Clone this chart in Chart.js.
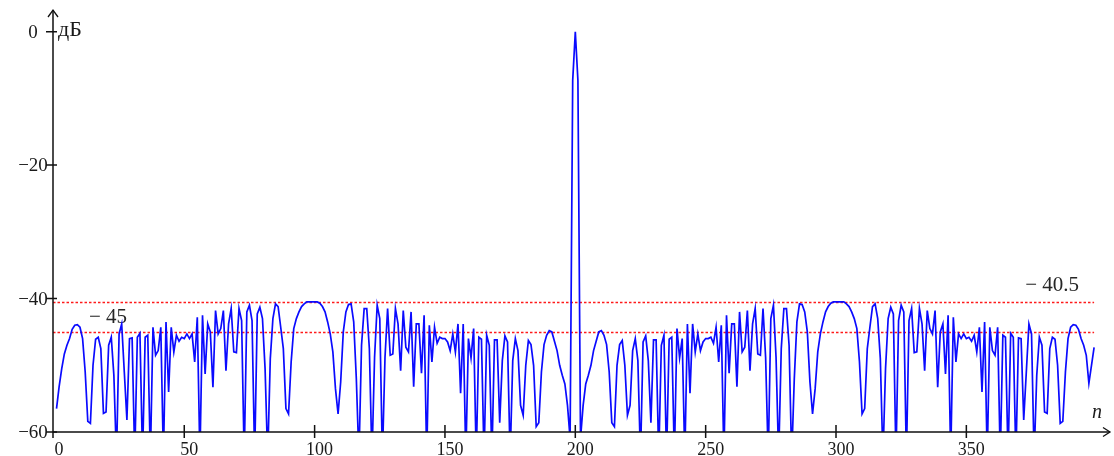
<!DOCTYPE html>
<html>
<head>
<meta charset="utf-8">
<script src="https://cdn.jsdelivr.net/npm/chart.js@4"></script>
<style>
  html, body { margin: 0; padding: 0; background: #ffffff; }
  #wrap { width: 1114px; height: 456px; }
</style>
</head>
<body>
<div id="wrap"><canvas id="chart" width="1114" height="456"></canvas></div>
<script>
// Normalised correlation response, dB, lag n = 1 ... 399
const firstLag = 1;

// n = 1 ... 198
const leftSidelobesDb = [
  -56.5, -53.2, -50.5, -48.3, -47.0, -46.0, -44.6, -44.0, -43.9, -44.3,
  -46.0, -51.0, -58.4, -58.7, -50.0, -46.1, -45.8, -47.5, -57.2, -57.0,
  -47.0, -45.8, -51.5, -64.0, -45.3, -43.8, -51.0, -58.2, -46.0, -45.9,
  -64.0, -45.8, -45.2, -64.0, -45.8, -45.5, -64.0, -44.3, -48.5, -47.8,
  -44.3, -64.0, -43.5, -54.0, -44.3, -48.0, -45.5, -46.4, -45.8, -46.0,
  -45.3, -46.0, -45.3, -49.5, -42.8, -64.0, -42.5, -51.3, -43.8, -45.0,
  -53.3, -41.8, -45.3, -44.5, -41.8, -50.8, -43.8, -41.5, -48.0, -48.1,
  -41.5, -43.3, -64.0, -42.0, -41.0, -43.3, -64.0, -42.3, -41.3, -43.0,
  -50.5, -64.0, -49.0, -43.0, -40.8, -41.2, -44.3, -47.5, -56.5, -57.3,
  -49.5, -44.5, -43.0, -42.0, -41.2, -40.8, -40.5, -40.5, -40.5, -40.5,
  -40.5, -40.7, -41.2, -42.0, -43.5, -45.3, -48.0, -53.5, -57.3, -52.5,
  -45.0, -42.0, -40.9, -40.8, -43.5, -52.0, -64.0, -47.0, -41.5, -41.5,
  -47.5, -64.0, -48.8, -41.0, -43.0, -64.0, -48.8, -41.5, -48.5, -48.3,
  -41.5, -43.8, -50.8, -41.8, -47.3, -48.0, -42.0, -53.2, -43.8, -43.8,
  -51.2, -42.5, -64.0, -44.0, -49.5, -44.3, -46.7, -45.8, -46.0, -46.0,
  -46.5, -47.8, -45.3, -48.0, -43.8, -54.2, -43.8, -64.0, -46.0, -48.9,
  -44.5, -64.0, -45.8, -46.1, -64.0, -45.5, -47.0, -64.0, -46.2, -46.2,
  -58.6, -49.3, -45.6, -46.5, -64.0, -49.3, -46.0, -47.8, -56.0, -57.5,
  -50.0, -46.3, -46.9, -50.0, -59.2, -58.6, -51.0, -46.9, -45.5, -44.8,
  -45.0, -46.4, -47.8, -50.0, -51.5, -52.8, -56.0, -61.0
];

// n = 199, 200, 201
const mainLobeDb = [-7.3, 0, -7.3];

// n = 202 ... 399
const rightSidelobesDb = [
  -61.0, -56.0, -52.8, -51.5, -50.0, -47.8, -46.4, -45.0, -44.8, -45.5,
  -46.9, -51.0, -58.6, -59.2, -50.0, -46.9, -46.3, -50.0, -57.5, -56.0,
  -47.8, -46.0, -49.3, -64.0, -46.5, -45.6, -49.3, -58.6, -46.2, -46.2,
  -64.0, -47.0, -45.5, -64.0, -46.1, -45.8, -64.0, -44.5, -48.9, -46.0,
  -64.0, -43.8, -54.2, -43.8, -48.0, -45.3, -47.8, -46.5, -46.0, -46.0,
  -45.8, -46.7, -44.3, -49.5, -44.0, -64.0, -42.5, -51.2, -43.8, -43.8,
  -53.2, -42.0, -48.0, -47.3, -41.8, -50.8, -43.8, -41.5, -48.3, -48.5,
  -41.5, -48.8, -64.0, -43.0, -41.0, -48.8, -64.0, -47.5, -41.5, -41.5,
  -47.0, -64.0, -52.0, -43.5, -40.8, -40.9, -42.0, -45.0, -52.5, -57.3,
  -53.5, -48.0, -45.3, -43.5, -42.0, -41.2, -40.7, -40.5, -40.5, -40.5,
  -40.5, -40.5, -40.8, -41.2, -42.0, -43.0, -44.5, -49.5, -57.3, -56.5,
  -47.5, -44.3, -41.2, -40.8, -43.0, -49.0, -64.0, -50.5, -43.0, -41.3,
  -42.3, -64.0, -43.3, -41.0, -42.0, -64.0, -43.3, -41.5, -48.1, -48.0,
  -41.5, -43.8, -50.8, -41.8, -44.5, -45.3, -41.8, -53.3, -45.0, -43.8,
  -51.3, -42.5, -64.0, -42.8, -49.5, -45.3, -46.0, -45.3, -46.0, -45.8,
  -46.4, -45.5, -48.0, -44.3, -54.0, -43.5, -64.0, -44.3, -47.8, -48.5,
  -44.3, -64.0, -45.5, -45.8, -64.0, -45.2, -45.8, -64.0, -45.9, -46.0,
  -58.2, -51.0, -43.8, -45.3, -64.0, -51.5, -45.8, -47.0, -57.0, -57.2,
  -47.5, -45.8, -46.1, -50.0, -58.7, -58.4, -51.0, -46.0, -44.3, -43.9,
  -44.0, -44.6, -46.0, -47.0, -48.5, -52.7, -50.0, -47.3
];

const xTickValues = [0, 50, 100, 150, 200, 250, 300, 350];
const yTickValues = [0, -20, -40, -60];
const thresholdsDb = [-40.5, -45];
const thresholdLabels = ['\u2212 40.5', '\u2212 45'];
const yUnitLabel = 'дБ';
const xAxisLabel = 'n';

const responseDb = leftSidelobesDb.concat(mainLobeDb, rightSidelobesDb);
const points = responseDb.map((v, i) => ({ x: firstLag + i, y: v }));
const lastLag = firstLag + responseDb.length - 1;

const SERIF = '"Liberation Serif", "DejaVu Serif", serif';

function minusText(v) {
  return v < 0 ? '\u2212' + String(-v) : String(v);
}

const decorations = {
  id: 'decorations',
  beforeDatasetsDraw(chart) {
    const { ctx, chartArea, scales } = chart;
    const xs = scales.x, ys = scales.y;
    ctx.save();
    ctx.strokeStyle = '#ff1a1a';
    ctx.lineWidth = 1.4;
    ctx.setLineDash([2.5, 2]);
    const xEnd = xs.getPixelForValue(lastLag);
    thresholdsDb.forEach(t => {
      const y = Math.round(ys.getPixelForValue(t)) + 0.5;
      ctx.beginPath();
      ctx.moveTo(chartArea.left, y);
      ctx.lineTo(xEnd, y);
      ctx.stroke();
    });
    ctx.setLineDash([]);
    ctx.fillStyle = '#262626';
    ctx.font = '21px ' + SERIF;
    ctx.textBaseline = 'alphabetic';
    // upper threshold label sits at the right, lower one at the left
    ctx.textAlign = 'right';
    ctx.fillText(thresholdLabels[0], xEnd - 15, ys.getPixelForValue(thresholdsDb[0]) - 11);
    ctx.textAlign = 'left';
    ctx.fillText(thresholdLabels[1], chartArea.left + 36, ys.getPixelForValue(thresholdsDb[1]) - 9);
    ctx.restore();
  },
  afterDatasetsDraw(chart) {
    const { ctx, chartArea, scales } = chart;
    const xs = scales.x, ys = scales.y;
    const x0 = chartArea.left;
    const yb = ys.getPixelForValue(-60);
    ctx.save();
    ctx.strokeStyle = '#111';
    ctx.fillStyle = '#1a1a1a';
    ctx.lineWidth = 1.5;
    // axes
    ctx.beginPath();
    ctx.moveTo(x0, yb);
    ctx.lineTo(chartArea.right, yb);
    ctx.moveTo(x0, yb + 6);
    ctx.lineTo(x0, chartArea.top);
    ctx.stroke();
    // arrow heads
    ctx.lineWidth = 1.3;
    ctx.beginPath();
    ctx.moveTo(chartArea.right - 7, yb - 4.5);
    ctx.lineTo(chartArea.right, yb);
    ctx.lineTo(chartArea.right - 7, yb + 4.5);
    ctx.moveTo(x0 - 5, chartArea.top + 7);
    ctx.lineTo(x0, chartArea.top);
    ctx.lineTo(x0 + 5, chartArea.top + 7);
    ctx.stroke();
    // ticks
    ctx.lineWidth = 1.5;
    ctx.beginPath();
    xTickValues.forEach(v => {
      if (v === 0) return;
      const x = xs.getPixelForValue(v);
      ctx.moveTo(x, yb - 7);
      ctx.lineTo(x, yb + 6);
    });
    yTickValues.forEach(v => {
      const y = ys.getPixelForValue(v);
      ctx.moveTo(x0 - 7, y);
      ctx.lineTo(x0 + 4, y);
    });
    ctx.stroke();
    // tick labels
    ctx.font = '18px ' + SERIF;
    ctx.textBaseline = 'middle';
    ctx.textAlign = 'center';
    xTickValues.forEach(v => {
      ctx.fillText(String(v), xs.getPixelForValue(v) + 5, yb + 18);
    });
    ctx.font = '19px ' + SERIF;
    yTickValues.forEach(v => {
      ctx.fillText(minusText(v), x0 - 20, ys.getPixelForValue(v) + 1);
    });
    // axis captions
    ctx.font = '22px ' + SERIF;
    ctx.textAlign = 'left';
    ctx.fillText(yUnitLabel, x0 + 5, ys.getPixelForValue(0) - 1);
    ctx.font = 'italic 20px ' + SERIF;
    ctx.textAlign = 'center';
    ctx.fillText(xAxisLabel, chartArea.right - 13, yb - 19);
    ctx.restore();
  }
};

new Chart(document.getElementById('chart'), {
  type: 'line',
  data: {
    datasets: [{
      data: points,
      borderColor: '#0a0aff',
      borderWidth: 1.7,
      pointRadius: 0,
      tension: 0,
      fill: false
    }]
  },
  options: {
    responsive: false,
    animation: false,
    devicePixelRatio: 1,
    layout: { padding: { left: 53, right: 4, top: 10, bottom: 24 } },
    scales: {
      x: { type: 'linear', min: -0.35, max: 405.1, display: false },
      y: { type: 'linear', min: -60, max: 3.25, display: false }
    },
    plugins: { legend: { display: false }, tooltip: { enabled: false } }
  },
  plugins: [decorations]
});
</script>
</body>
</html>
